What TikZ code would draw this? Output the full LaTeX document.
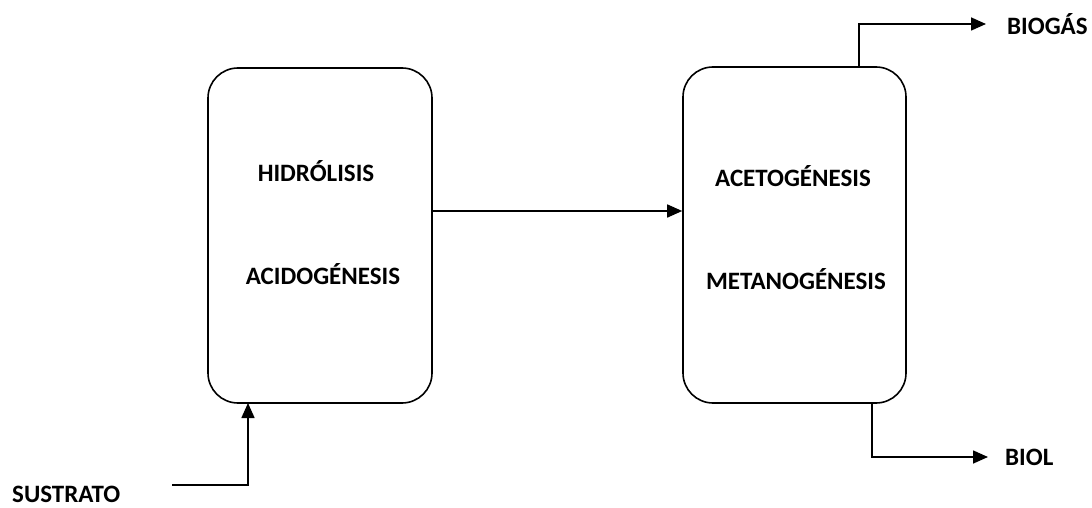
\documentclass[tikz,border=0pt]{standalone}
\usepackage{fontspec}
\setmainfont{Carlito}
\usetikzlibrary{arrows.meta}
\begin{document}
\begin{tikzpicture}[x=1pt,y=-1pt,
  box/.style={draw,line width=1.6pt,rounded corners=30pt},
  lbl/.style={font=\bfseries\fontsize{25}{27}\selectfont,inner sep=0pt},
  flow/.style={line width=1.6pt,-{Triangle[length=15pt,width=13pt]}}]
\useasboundingbox[fill=white] (0,0) rectangle (1092,508);
\node[box,minimum width=224pt,minimum height=335pt] (r1) at (320,235.5) {};
\node[box,minimum width=223pt,minimum height=336pt] (r2) at (794.5,235) {};
\node[lbl] (h) at (316,171) {HIDRÓLISIS};
\node[lbl] (a) at (323,274) {ACIDOGÉNESIS};
\node[lbl] (ac) at (793,176) {ACETOGÉNESIS};
\node[lbl] (m) at (796,279) {METANOGÉNESIS};
\node[lbl,anchor=west] (bg) at (1007,24) {BIOGÁS};
\node[lbl,anchor=west] (bl) at (1005,457) {BIOL};
\node[lbl,anchor=west] (s) at (12,494) {SUSTRATO};
\coordinate (s0) at (172,485);
\coordinate (g0) at (859,67);
\coordinate (b0) at (872,403);
\draw[flow] (r1.east |- 0,211) -- (r2.west |- 0,211);
\draw[flow] (s0) -- (248,485) -- (248,403);
\draw[flow] (g0) -- (859,24) -- (986,24);
\draw[flow] (b0) -- (872,457) -- (988,457);
\end{tikzpicture}
\end{document}
